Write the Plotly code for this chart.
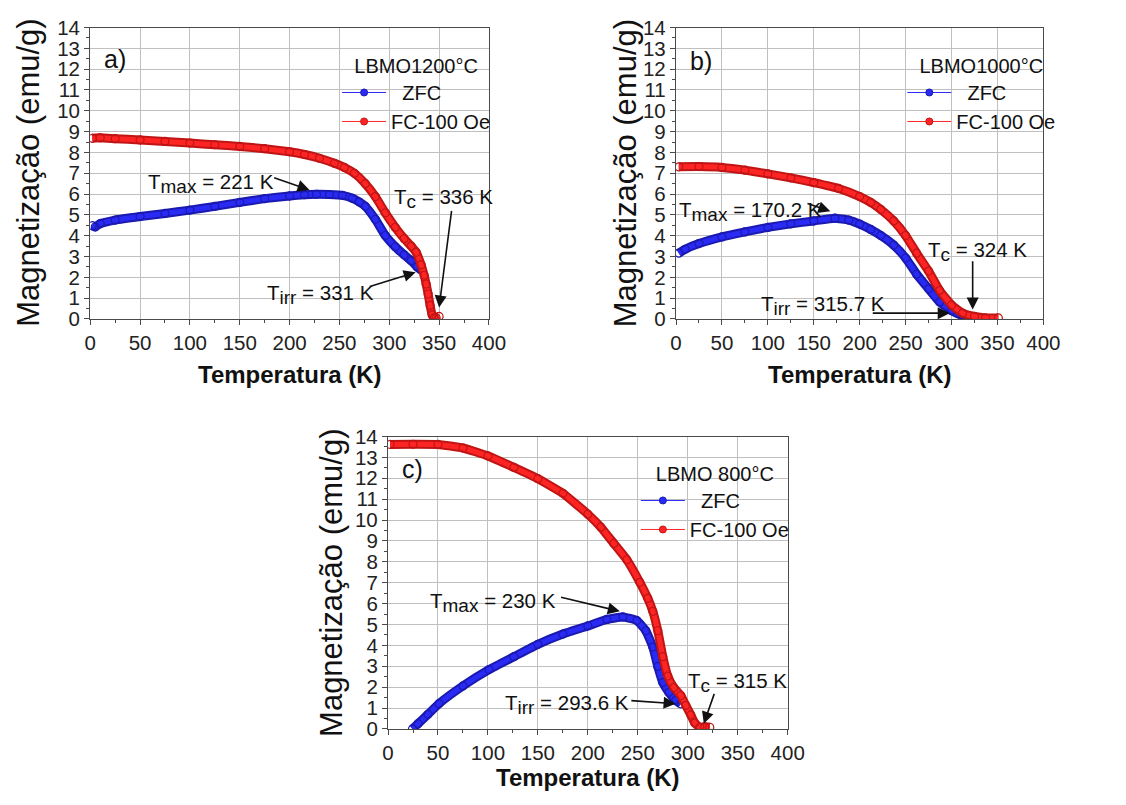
import plotly.graph_objects as go

# ---- Magnetisation vs temperature, three LBMO samples ----
# (a) LBMO 1200 °C
T_a_fc = [2, 10, 25, 50, 75, 100, 125, 150, 175, 200, 215, 230, 245, 255, 265, 276, 286, 296,
          306, 315, 322, 327, 332, 335, 337, 339, 341, 343, 345, 347, 350]
M_a_fc = [8.68, 8.70, 8.66, 8.60, 8.53, 8.45, 8.37, 8.29, 8.18, 8.03, 7.90, 7.72, 7.48, 7.28, 7.00,
          6.50, 5.88, 5.10, 4.40, 3.86, 3.50, 3.20, 2.60, 2.10, 1.68, 1.20, 0.65, 0.20, 0.05, 0.06, 0.12]
T_a_zfc = [2, 5, 10, 25, 50, 75, 100, 125, 150, 175, 200, 215, 227, 240, 253, 263, 270, 276, 286,
           296, 306, 315, 322, 328, 332]
M_a_zfc = [4.48, 4.42, 4.58, 4.75, 4.92, 5.07, 5.23, 5.41, 5.60, 5.78, 5.91, 5.97, 5.99, 5.98, 5.94,
           5.80, 5.62, 5.41, 4.79, 4.01, 3.47, 3.08, 2.80, 2.50, 2.35]

# (b) LBMO 1000 °C
T_b_fc = [3, 25, 50, 75, 100, 125, 150, 177, 200, 212, 223, 237, 250, 262, 275, 287, 300, 312,
          325, 337, 351]
M_b_fc = [7.31, 7.32, 7.28, 7.15, 6.97, 6.78, 6.55, 6.27, 5.88, 5.60, 5.26, 4.71, 4.01, 3.16, 2.30,
          1.37, 0.67, 0.28, 0.12, 0.05, 0.05]
T_b_zfc = [3, 10, 25, 50, 75, 100, 125, 150, 173, 188, 200, 212, 223, 237, 250, 262, 275, 287,
           300, 312, 320]
M_b_zfc = [3.16, 3.35, 3.62, 3.94, 4.18, 4.40, 4.57, 4.71, 4.84, 4.75, 4.56, 4.30, 4.01, 3.55, 2.93,
           2.15, 1.45, 0.82, 0.40, 0.16, 0.10]

# (c) LBMO 800 °C
T_c_fc = [2, 25, 50, 75, 100, 126, 150, 175, 200, 213, 226, 239, 252, 260, 265, 270, 275, 280,
          286, 293, 298, 303, 307, 312, 317, 322]
M_c_fc = [13.62, 13.63, 13.62, 13.45, 13.07, 12.52, 11.98, 11.28, 10.28, 9.66, 8.88, 8.10, 7.02,
          6.25, 5.63, 4.70, 3.46, 2.53, 1.98, 1.60, 1.13, 0.67, 0.28, 0.08, 0.10, 0.08]
T_c_zfc = [24.5, 30, 40, 51, 75, 101, 126, 150, 175, 200, 219, 235, 249, 258, 265, 270, 275, 281,
           288, 293]
M_c_zfc = [0.00, 0.25, 0.70, 1.21, 2.06, 2.84, 3.46, 4.05, 4.54, 4.93, 5.24, 5.36, 5.19, 4.70,
           3.92, 2.99, 2.22, 1.75, 1.36, 1.20]

panel_tags = ["a)", "b)", "c)"]
sample_names = ["LBMO1200°C", "LBMO1000°C", "LBMO 800°C"]
series_names = ["\u00a0\u00a0ZFC", "FC-100 Oe"]
x_ticks = [0, 50, 100, 150, 200, 250, 300, 350, 400]
y_ticks = list(range(0, 15))

BLUE, BLUE_EDGE = "#2a2af5", "#1a1ab0"
RED, RED_EDGE = "#ff2424", "#c01515"
FONT = "Liberation Sans, Arial, sans-serif"

W, H = 1126, 805
# plot areas in pixels: (left, right, top, bottom)
boxes = [(86, 493, 16, 316), (684, 1059, 16, 316), (390, 798, 437, 738)]

fig = go.Figure()

panels = [
    (T_a_zfc, M_a_zfc, T_a_fc, M_a_fc),
    (T_b_zfc, M_b_zfc, T_b_fc, M_b_fc),
    (T_c_zfc, M_c_zfc, T_c_fc, M_c_fc),
]

for i, (tz, mz, tf, mf) in enumerate(panels):
    xa = "x" if i == 0 else f"x{i+1}"
    ya = "y" if i == 0 else f"y{i+1}"
    lg = "legend" if i == 0 else f"legend{i+1}"
    for t, m, col, edge in [(tz, mz, BLUE, BLUE_EDGE), (tf, mf, RED, RED_EDGE)]:
        fig.add_trace(go.Scatter(
            x=t, y=m, xaxis=xa, yaxis=ya, mode="lines", showlegend=False,
            line=dict(color=edge, width=9, shape="spline", smoothing=0.4), hoverinfo="skip"))
        fig.add_trace(go.Scatter(
            x=t, y=m, xaxis=xa, yaxis=ya, mode="lines+markers", showlegend=False,
            line=dict(color=col, width=5, shape="spline", smoothing=0.4),
            marker=dict(symbol="circle-open", size=8, color=edge, line=dict(width=1.2))))
    # legend entries
    for name, col, edge in [(series_names[0], BLUE, BLUE_EDGE), (series_names[1], RED, RED_EDGE)]:
        fig.add_trace(go.Scatter(
            x=[None], y=[None], xaxis=xa, yaxis=ya, mode="lines+markers", name=name, legend=lg,
            line=dict(color=col, width=1),
            marker=dict(symbol="circle", size=7, color=col, line=dict(color=edge, width=1))))

axis_common = dict(
    showline=True, mirror=True, linecolor="#4a4a4a", linewidth=1.3,
    showgrid=True, gridcolor="#c0c0c0", gridwidth=1,
    ticks="outside", ticklen=5, tickwidth=1.2, tickcolor="#4a4a4a",
    tickfont=dict(family=FONT, size=20.5, color="#222"), zeroline=False,
)

layout = dict(width=W, height=H, margin=dict(l=0, r=0, t=0, b=0),
              paper_bgcolor="white", plot_bgcolor="white", font=dict(family=FONT, color="#111"))

for i, (l, r, t, b) in enumerate(boxes):
    sx = "" if i == 0 else str(i + 1)
    layout[f"xaxis{sx}"] = dict(
        axis_common, domain=[l / W, r / W], anchor=f"y{sx}", range=[0, 400],
        tickvals=x_ticks, minor=dict(ticks="outside", ticklen=3, dtick=25, tickcolor="#4a4a4a", showgrid=False))
    layout[f"yaxis{sx}"] = dict(
        axis_common, domain=[1 - b / H, 1 - t / H], anchor=f"x{sx}", range=[0, 14],
        tickvals=y_ticks, minor=dict(ticks="outside", ticklen=3, dtick=0.5, tickcolor="#4a4a4a", showgrid=False))

# legends (one per panel)
legend_pos = [(338, 36), (915, 36), (643, 456)]
for i, (lx, ly) in enumerate(legend_pos):
    key = "legend" if i == 0 else f"legend{i+1}"
    layout[key] = dict(
        x=lx / W, y=1 - ly / H, xanchor="left", yanchor="top", bgcolor="rgba(0,0,0,0)",
        borderwidth=0, itemwidth=44, tracegroupgap=0,
        title=dict(text=sample_names[i], side="top center", font=dict(family=FONT, size=20, color="#111")),
        font=dict(family=FONT, size=20, color="#111"))

fig.update_layout(**layout)

ann = []
# axis titles
ytitle_x = [23, 632, 332]
for i, (l, r, t, b) in enumerate(boxes):
    ann.append(dict(xref="paper", yref="paper", x=ytitle_x[i] / W, y=1 - (t + b) / 2 / H,
                    text="Magnetização (emu/g)", textangle=-90, showarrow=False,
                    xanchor="center", yanchor="middle", font=dict(family=FONT, size=31, color="#111")))
    xt_y = b + 57 if i < 2 else b + 50
    ann.append(dict(xref="paper", yref="paper", x=(l + r) / 2 / W, y=1 - xt_y / H,
                    text="<b>Temperatura (K)</b>", showarrow=False,
                    xanchor="center", yanchor="middle", font=dict(family=FONT, size=24, color="#111")))


def sub(s):
    # subscript kept close to full size
    return f"<sub><span style='font-size:19px'>{s}</span></sub>"


tag_pos = [(24.6, 12.5), (26.7, 12.4), (24.5, 12.45)]
# (text, text_x, text_y, arrow_tail_x, arrow_tail_y, arrow_head_x, arrow_head_y)
labels = [
    [(f"T{sub('max')} = 221 K", 56, 6.5, 183, 6.81, 220, 6.2),
     (f"T{sub('c')} = 336 K", 303, 5.8, 362.7, 5.27, 350, 0.55),
     (f"T{sub('irr')} = 331 K", 175, 1.17, 279, 1.54, 326.5, 2.24)],
    [(f"T{sub('max')} = 170.2 K", 1, 5.15, 141.5, 5.57, 168, 5.18),
     (f"T{sub('c')} = 324 K", 272, 3.22, 323, 2.85, 323, 0.45),
     (f"T{sub('irr')} = 315.7 K", 90.5, 0.65, 212.6, 0.28, 298, 0.28)],
    [(f"T{sub('max')} = 230 K", 39.5, 6.07, 171.7, 6.32, 232, 5.63),
     (f"T{sub('c')} = 315 K", 298, 2.2, 327, 1.75, 316, 0.25),
     (f"T{sub('irr')} = 293.6 K", 114.8, 1.18, 242, 1.36, 287.8, 1.21)],
]
for i in range(3):
    xr = "x" if i == 0 else f"x{i+1}"
    yr = "y" if i == 0 else f"y{i+1}"
    ann.append(dict(xref=xr, yref=yr, x=tag_pos[i][0], y=tag_pos[i][1], text=panel_tags[i],
                    showarrow=False, xanchor="center", yanchor="middle",
                    font=dict(family=FONT, size=25, color="#111")))
    for txt, tx, ty, ax, ay, hx, hy in labels[i]:
        ann.append(dict(xref=xr, yref=yr, x=tx, y=ty, text=txt, showarrow=False,
                        xanchor="left", yanchor="middle", font=dict(family=FONT, size=20.5, color="#111")))
        ann.append(dict(xref=xr, yref=yr, axref=xr, ayref=yr, x=hx, y=hy, ax=ax, ay=ay, text="",
                        showarrow=True, arrowhead=2, arrowsize=1.5, arrowwidth=1.6, arrowcolor="#111",
                        standoff=0, startstandoff=0))

fig.update_layout(annotations=ann)
fig.write_html("out.html")
